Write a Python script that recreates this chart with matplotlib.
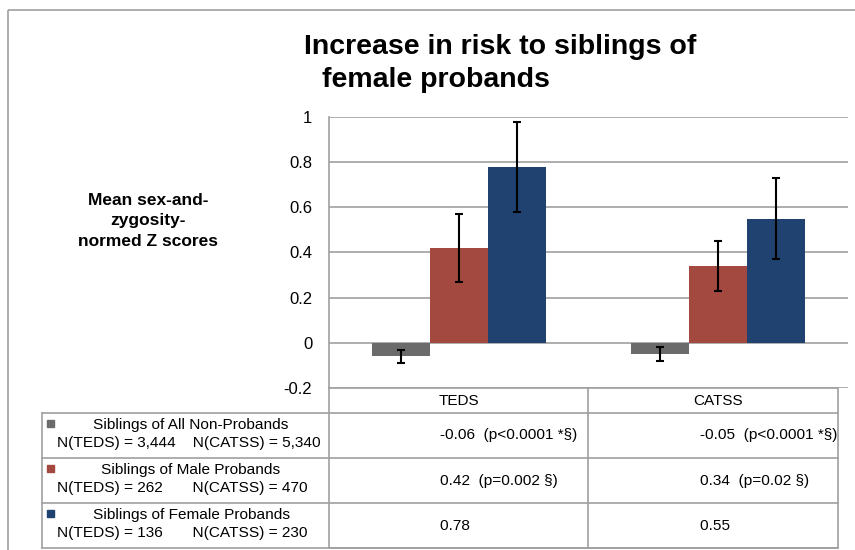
import matplotlib.pyplot as plt
from matplotlib.patches import Rectangle

# Chart data
groups = ["TEDS", "CATSS"]
series_names = ["Siblings of All Non-Probands", "Siblings of Male Probands", "Siblings of Female Probands"]
n_labels = ["N(TEDS) = 3,444    N(CATSS) = 5,340",
            "N(TEDS) = 262       N(CATSS) = 470",
            "N(TEDS) = 136       N(CATSS) = 230"]
colors = ["#6b6b6b", "#a3493f", "#1f4270"]

teds_means = [-0.06, 0.42, 0.78]
catss_means = [-0.05, 0.34, 0.55]
teds_low = [-0.09, 0.27, 0.58]
teds_high = [-0.03, 0.57, 0.98]
catss_low = [-0.08, 0.23, 0.37]
catss_high = [-0.02, 0.45, 0.73]
teds_p = ["(p<0.0001 *§)", "(p=0.002 §)", ""]
catss_p = ["(p<0.0001 *§)", "(p=0.02 §)", ""]
yticks = [-0.2, 0, 0.2, 0.4, 0.6, 0.8, 1]
ytick_labels = ["-0.2", "0", "0.2", "0.4", "0.6", "0.8", "1"]

plt.rcParams['font.family'] = ['Liberation Sans', 'DejaVu Sans']

W, H = 855, 550
fig = plt.figure(figsize=(8.55, 5.5), dpi=100)

# overlay in pixel coords for frame, table and labels
bg = fig.add_axes([0, 0, 1, 1], zorder=0)
bg.set_xlim(0, W)
bg.set_ylim(H, 0)
bg.axis("off")

line_c = "#a0a0a0"
bg.add_patch(Rectangle((8, 10), 900, 600, fill=False, edgecolor=line_c, lw=1.2))

# bar axes
ax_l, ax_r, ax_t, ax_b = 329, 848, 117, 388
ax = fig.add_axes([ax_l / W, 1 - ax_b / H, (ax_r - ax_l) / W, (ax_b - ax_t) / H], zorder=1)
ax.set_facecolor("none")

width = 0.2235
offsets = [-width, 0, width]
for i in range(3):
    vals = [teds_means[i], catss_means[i]]
    lows = [teds_low[i], catss_low[i]]
    highs = [teds_high[i], catss_high[i]]
    xs = [g + offsets[i] for g in range(len(groups))]
    yerr = [[v - lo for v, lo in zip(vals, lows)], [hi - v for v, hi in zip(vals, highs)]]
    ax.bar(xs, vals, width=width, color=colors[i], zorder=3)
    ax.errorbar(xs, vals, yerr=yerr, fmt="none", ecolor="black", elinewidth=1.5,
                capsize=3.2, capthick=1.5, zorder=4)

ax.set_xlim(-0.5, 1.5)
ax.set_ylim(-0.2, 1)
ax.set_yticks(yticks)
ax.set_yticklabels(ytick_labels, fontsize=12)
ax.set_xticks([])
ax.tick_params(axis="y", length=0, pad=12)
ax.yaxis.grid(True, color=line_c, lw=1.2)
ax.set_axisbelow(True)
for s in ["top", "right", "bottom"]:
    ax.spines[s].set_visible(False)
ax.spines["left"].set_color(line_c)
ax.spines["left"].set_linewidth(1.2)

# title and y label
bg.text(304, 47, "Increase in risk to siblings of", fontsize=20.5, fontweight="bold", va="center")
bg.text(322, 80, "female probands", fontsize=20.5, fontweight="bold", va="center")
bg.text(148, 221, "Mean sex-and-\nzygosity-\nnormed Z scores", fontsize=12.5, fontweight="bold",
        ha="center", va="center", linespacing=1.45)

# table
div_x, tab_r = 588, 838
head_top, head_bot = 388, 413
row_lines = [413, 458, 503, 548]
bg.plot([ax_l, tab_r, tab_r, ax_l, ax_l], [head_top, head_top, row_lines[-1], row_lines[-1], head_top],
        color=line_c, lw=1.2)
bg.plot([div_x, div_x], [head_top, row_lines[-1]], color=line_c, lw=1.2)
bg.plot([42, 42], [row_lines[0], row_lines[-1]], color=line_c, lw=1.2)
for y in row_lines:
    bg.plot([42, tab_r], [y, y], color=line_c, lw=1.2)

bg.text(459, 401, groups[0], fontsize=11, ha="center", va="center")
bg.text(718, 401, groups[1], fontsize=11, ha="center", va="center")

for i in range(3):
    top = row_lines[i]
    bg.add_patch(Rectangle((47, top + 7), 7, 7, color=colors[i]))
    bg.text(191, top + 12, series_names[i], fontsize=11.1, ha="center", va="center")
    bg.text(57, top + 30, n_labels[i], fontsize=11.1, ha="left", va="center")
    mid = (row_lines[i] + row_lines[i + 1]) / 2
    bg.text(440, mid, f"{teds_means[i]:.2f}  {teds_p[i]}", fontsize=11.1, ha="left", va="center")
    bg.text(700, mid, f"{catss_means[i]:.2f}  {catss_p[i]}", fontsize=11.1, ha="left", va="center")

fig.savefig("out.png", dpi=100)
